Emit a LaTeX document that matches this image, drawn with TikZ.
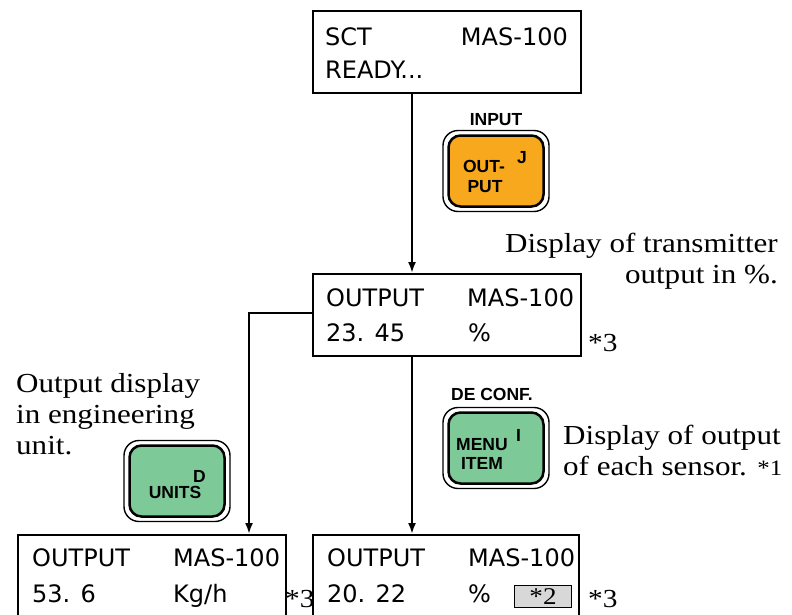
\documentclass[tikz,border=0pt]{standalone}
\usepackage{fontspec}
\setmainfont{Liberation Serif}
\newfontfamily\notefont[FakeStretch=1.13]{Liberation Serif}
\newfontfamily\dispfont{DejaVu Sans}
\newfontfamily\btnfont{Liberation Sans}
\usetikzlibrary{arrows.meta}
\definecolor{btnorange}{RGB}{248,168,28}
\definecolor{btngreen}{RGB}{126,201,152}
\definecolor{stargray}{RGB}{216,216,216}
\begin{document}
\begin{tikzpicture}[x=1pt,y=-1pt,
  disp/.style={draw, line width=2.2pt, anchor=north west, inner sep=0, minimum width=268pt, minimum height=82pt},
  dtxt/.style={font=\dispfont\fontsize{24}{24}\selectfont, inner sep=0, anchor=base west},
  btnin/.style={draw, line width=2.5pt, rounded corners=12pt, minimum width=95pt, minimum height=71pt, inner sep=0},
  btnout/.style={draw, line width=1.4pt, rounded corners=15pt, minimum width=106pt, minimum height=81pt, inner sep=0},
  btxt/.style={font=\btnfont\bfseries\fontsize{17.5}{17.5}\selectfont, inner sep=0, anchor=base},
  note/.style={font=\notefont\fontsize{27.5}{31}\selectfont, inner sep=0},
  star/.style={font=\notefont\fontsize{26}{26}\selectfont, inner sep=0, anchor=base west},
  conn/.style={line width=2pt},
  arr/.style={conn, -{Latex[length=11pt,width=8pt]}}
]
\useasboundingbox (0,0) rectangle (792,614);
\clip (0,0) rectangle (792,614);

% display boxes
\node[disp] (top) at (312,10) {};
\node[dtxt] (topa) at (325,45) {SCT};
\node[dtxt, anchor=base east] (topb) at (568,45) {MAS-100};
\node[dtxt] (topc) at (325,78) {READY...};

\node[disp] (mid) at (312,273) {};
\node[dtxt] (mida) at (326,306) {OUTPUT};
\node[dtxt] (midb) at (467,306) {MAS-100};
\node[dtxt] (midc) at (326,341) {23. 45};
\node[dtxt] (midd) at (468,341) {\%};
\node[star] (mids) at (588,351) {*3};

\node[disp, minimum height=120pt] (bl) at (17,534) {};
\node[dtxt] (bla) at (32,566) {OUTPUT};
\node[dtxt] (blb) at (173,566) {MAS-100};
\node[dtxt] (blc) at (32,602) {53. 6};
\node[dtxt] (bld) at (173,602) {Kg/h};
\node[star] (bls) at (285,607) {*3};

\node[disp, minimum width=266pt, minimum height=120pt] (br) at (312,534) {};
\node[dtxt] (bra) at (327,566) {OUTPUT};
\node[dtxt] (brb) at (468,566) {MAS-100};
\node[dtxt] (brc) at (327,602) {20. 22};
\node[dtxt] (brd) at (468,602) {\%};
\node[draw, line width=1pt, fill=stargray, anchor=north west, minimum width=57pt, minimum height=22pt, inner sep=0] (gbox) at (514,585) {};
\node[font=\notefont\fontsize{24}{24}\selectfont, inner sep=0] (gtxt) at (gbox.center) {*2};
\node[star] (brs) at (588,607) {*3};

% connectors
\draw[arr] (top.south -| 412,0) -- (mid.north -| 412,0);
\draw[arr] (mid.south -| 412,0) -- (br.north -| 412,0);
\coordinate (lc) at (249,313);
\draw[arr] (mid.west |- lc) -- (lc) -- (bl.north -| lc);

% buttons
\node[btnout] (b1o) at (496,171) {};
\node[btnin, fill=btnorange] (b1) at (b1o.center) {};
\node[btxt] (b1l) at (496,125) {INPUT};
\node[btxt] (b1a) at (484,172) {OUT-};
\node[btxt] (b1b) at (485,192) {PUT};
\node[btxt, anchor=base west] (b1c) at (517,163) {J};

\node[btnout] (b2o) at (496,448) {};
\node[btnin, fill=btngreen] (b2) at (b2o.center) {};
\node[btxt] (b2l) at (492,400) {DE CONF.};
\node[btxt] (b2a) at (482,450) {MENU};
\node[btxt] (b2b) at (482,469) {ITEM};
\node[btxt, anchor=base west] (b2c) at (516,441) {I};

\node[btnout] (b3o) at (177,481) {};
\node[btnin, fill=btngreen] (b3) at (b3o.center) {};
\node[btxt] (b3a) at (175,498) {UNITS};
\node[btxt, anchor=base west] (b3c) at (193,482) {D};

% notes
\node[note, anchor=base east] (n1) at (778,252) {Display of transmitter};
\node[note, anchor=base east] (n2) at (778,283) {output in \%.};
\node[note, anchor=base west] (n3) at (563,444) {Display of output};
\node[note, anchor=base west] (n4) at (563,475) {of each sensor. {\fontsize{22}{22}\selectfont *1}};
\node[note, anchor=base west] (n5) at (16,392) {Output display};
\node[note, anchor=base west] (n6) at (16,423) {in engineering};
\node[note, anchor=base west] (n7) at (16,454) {unit.};
\end{tikzpicture}
\end{document}
